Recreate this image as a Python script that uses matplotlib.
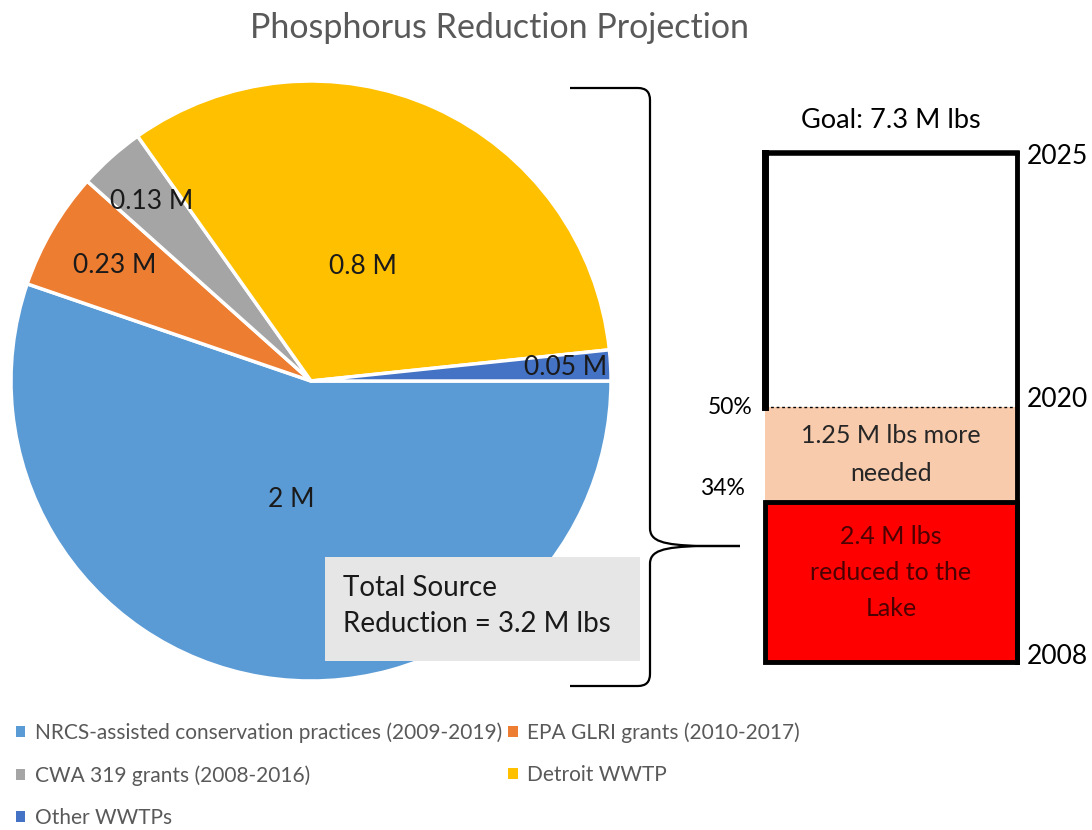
import matplotlib
matplotlib.use("Agg")
import matplotlib.pyplot as plt
from matplotlib.patches import Patch, Rectangle, PathPatch
from matplotlib.path import Path
import numpy as np

plt.rcParams['font.family'] = ['Lato', 'DejaVu Sans']

# pie data (slice sizes, label texts as printed)
sources = ['NRCS-assisted conservation practices (2009-2019)',
           'EPA GLRI grants (2010-2017)',
           'CWA 319 grants (2008-2016)',
           'Detroit WWTP',
           'Other WWTPs']
sizes = [2.0, 0.23, 0.13, 1.2, 0.06]
size_labels = ['2 M', '0.23 M', '0.13 M', '0.8 M', '0.05 M']
colors = ['#5B9BD5', '#ED7D31', '#A5A5A5', '#FFC000', '#4472C4']

# progress bar data (percent of the 2025 goal)
bar_levels = [31.5, 50, 100]
level_labels = ['34%', '50%']
years = ['2008', '2020', '2025']
goal_text = 'Goal: 7.3 M lbs'
done_text = '2.4 M lbs\nreduced to the\nLake'
needed_text = '1.25 M lbs more\nneeded'
total_text = 'Total Source\nReduction = 3.2 M lbs'

W, H = 1092, 830
def Y(y):
    return H - y

fig = plt.figure(figsize=(W / 100, H / 100), dpi=100)
ax = fig.add_axes([0, 0, 1, 1])

cx, cy, R = 311, Y(381), 300
wedges, _ = ax.pie(sizes, colors=colors, startangle=0, counterclock=False,
                   center=(cx, cy), radius=R,
                   wedgeprops=dict(edgecolor='white', linewidth=2.5))
ax.set_xlim(0, W)
ax.set_ylim(0, H)
ax.set_aspect('equal')
ax.axis('off')

label_dist = [0.40, 0.76, 0.80, 0.42, 0.85]
for w, txt, d in zip(wedges, size_labels, label_dist):
    a = np.deg2rad((w.theta1 + w.theta2) / 2)
    ax.text(cx + d * R * np.cos(a), cy + d * R * np.sin(a), txt,
            ha='center', va='center', fontsize=19, color='#1a1a1a')

# title
ax.text(500, Y(28), 'Phosphorus Reduction Projection', ha='center', va='center',
        fontsize=24.5, color='#595959')

# grey total box
ax.add_patch(Rectangle((325, Y(661)), 315, 104, facecolor='#E7E6E6',
                       edgecolor='none', zorder=3))
ax.text(343, Y(606), total_text, ha='left', va='center', fontsize=20,
        color='#1a1a1a', linespacing=1.5, zorder=4)

# curly brace
verts = [(570, 88), (638, 88), (650, 88), (650, 100), (650, 528),
         (650, 541), (662, 545), (700, 546), (740, 546),
         (700, 546), (662, 547), (650, 551), (650, 564),
         (650, 674), (650, 686), (638, 686), (570, 686)]
codes = [Path.MOVETO, Path.LINETO, Path.CURVE3, Path.CURVE3, Path.LINETO,
         Path.CURVE4, Path.CURVE4, Path.CURVE4, Path.LINETO,
         Path.LINETO, Path.CURVE4, Path.CURVE4, Path.CURVE4,
         Path.LINETO, Path.CURVE3, Path.CURVE3, Path.LINETO]
verts = [(x, Y(y)) for x, y in verts]
ax.add_patch(PathPatch(Path(verts, codes), facecolor='none',
                       edgecolor='black', linewidth=1.6))

# legend, row-major like the original
handles = [Patch(facecolor=c) for c in colors]
order = [0, 2, 4, 1, 3]
ax.legend([handles[i] for i in order], [sources[i] for i in order],
          loc='upper left', bbox_to_anchor=(16 / W, 1 - 722 / H), ncol=2,
          frameon=False, fontsize=15, labelcolor='#595959',
          handlelength=0.45, handleheight=0.45, handletextpad=0.45,
          columnspacing=0.3, labelspacing=1.08, borderpad=0, borderaxespad=0)

# progress bar on the right
bx0, by0, bw, bh = 765, 662, 252, 509
bax = fig.add_axes([bx0 / W, (H - by0) / H, bw / W, bh / H])
bax.set_xlim(0, 1)
bax.set_ylim(0, 100)
bax.axis('off')

bax.bar(0.5, bar_levels[1] - bar_levels[0], bottom=bar_levels[0], width=1,
        color='#F8CBAD', edgecolor='none', clip_on=False)
bax.bar(0.5, bar_levels[0], width=1, color='#FF0000', edgecolor='black',
        linewidth=3.5, clip_on=False)
bax.plot([0, 1], [bar_levels[1]] * 2, color='black', linewidth=1,
         linestyle=(0, (2, 2)), clip_on=False)
bax.plot([0, 0], [bar_levels[1], bar_levels[2]], color='black', linewidth=5,
         clip_on=False, solid_capstyle='projecting')
bax.plot([0, 1], [bar_levels[2]] * 2, color='black', linewidth=4,
         clip_on=False, solid_capstyle='projecting')
bax.plot([1, 1], [0, bar_levels[2]], color='black', linewidth=3.5,
         clip_on=False, solid_capstyle='projecting')

bax.text(0.5, bar_levels[0] / 2 + 1.8, done_text, ha='center', va='center',
         fontsize=18, color='#4d0000', linespacing=1.7)
bax.text(0.5, (bar_levels[0] + bar_levels[1]) / 2, needed_text, ha='center',
         va='center', fontsize=18, color='#262626', linespacing=1.75)
bax.text(0.5, bar_levels[2] + 6.3, goal_text, ha='center', va='center',
         fontsize=19.5, color='black')

bax.text(-0.05, bar_levels[1], level_labels[1], ha='right', va='center',
         fontsize=16.5, color='black')
bax.text(-0.08, bar_levels[0] + 2.5, level_labels[0], ha='right', va='center',
         fontsize=16.5, color='black')

year_y = [1.0, 51.5, 99.3]
for yr, yy in zip(years, year_y):
    bax.text(1.04, yy, yr, ha='left', va='center', fontsize=19, color='black')

fig.savefig('out.png', dpi=100)
